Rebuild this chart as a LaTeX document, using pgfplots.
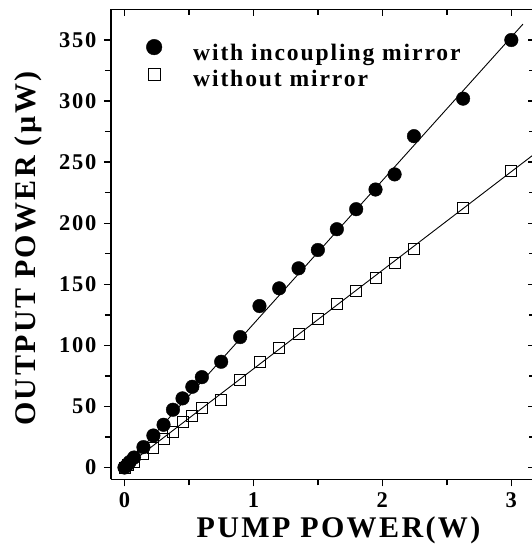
\documentclass[border=0pt]{standalone}
\usepackage{fontspec}
\setmainfont{Liberation Serif}
\newfontfamily\lsfont[LetterSpace=8]{Liberation Serif}
\newfontfamily\tkfont[LetterSpace=8]{Liberation Serif}
\usepackage{pgfplots}
\pgfplotsset{compat=1.18}
\begin{document}
\begin{tikzpicture}
\pgfplotsset{
  common/.style={
    scale only axis, width=424pt, height=470pt,
    xmin=-0.1047, xmax=3.183, ymin=-9.74, ymax=375,
    xtick={0,1,2,3}, minor xtick={0.5,1.5,2.5},
    ytick={0,50,...,350}, minor ytick={25,75,...,325},
    axis line style={line width=1.8pt},
    major tick length=7pt, minor tick length=6pt,
    every tick/.style={black, line width=1.4pt},
    /pgf/number format/assume math mode=true,
  }
}
\begin{axis}[common, name=main,
  axis x line*=bottom, axis y line*=left,
  tick align=outside,
  ticklabel style={font=\tkfont\bfseries\fontsize{22.5}{25}\selectfont},
  yticklabel style={xshift=-4pt},
  xticklabel style={yshift=-3pt},
  xlabel={PUMP POWER(W)},
  ylabel={OUTPUT POWER (µW)},
  label style={font=\lsfont\bfseries\fontsize{30}{34}\selectfont},
  xlabel style={at={(axis description cs:0.5366,-0.1226)}, anchor=base},
  ylabel style={at={(axis description cs:-0.1781,0.491)}, anchor=base, rotate=0},
  legend style={draw=none, fill=none, inner sep=0pt, outer sep=0pt,
    at={(axis description cs:0.083,0.937)}, anchor=north west,
    font=\lsfont\bfseries\fontsize{23.6}{26}\selectfont,
    nodes={inner sep=0pt}, row sep=6pt, column sep=31pt},
  legend cell align=left,
]
\addplot[black, line width=0.9pt, forget plot] coordinates {(0,0) (3.09,363)};
\addplot[black, line width=0.9pt, forget plot] coordinates {(0,0) (3.183,257)};
\addplot[only marks, mark=*, mark size=6.8pt, black, fill=black,
  legend image code/.code={\draw[black, fill=black] (0pt,5.5pt) circle (7.8pt);}]
coordinates {
(0,0) (0.02,2) (0.04,4.5) (0.074,8.2) (0.147,16.7) (0.224,26.2) (0.303,35.0)
(0.376,47.3) (0.45,56.6) (0.526,66.1) (0.6,74.0) (0.75,86.6) (0.897,106.8)
(1.047,132.2) (1.2,146.7) (1.35,163.1) (1.5,178.1) (1.647,195.1) (1.797,211.5)
(1.947,227.6) (2.095,240.0) (2.245,271.3) (2.626,302.0) (3.0,350.0)
};
\addlegendentry{with incoupling mirror}
\addplot[only marks, mark=square, mark size=5.5pt, black, line width=0.9pt,
  legend image code/.code={\draw[black, line width=0.9pt] (-6pt,-0.5pt) rectangle (6pt,11.5pt);}]
coordinates {
(0,0) (0.03,2) (0.074,4.9) (0.147,10.9) (0.224,16.4) (0.303,23.2) (0.376,29.5)
(0.45,36.9) (0.526,42.3) (0.6,48.6) (0.75,55.5) (0.897,72.1) (1.047,86.3)
(1.2,98.1) (1.35,109.0) (1.5,121.3) (1.647,133.6) (1.797,144.5) (1.947,155.5)
(2.095,167.8) (2.245,178.7) (2.626,212.8) (3.0,243.2)
};
\addlegendentry{without mirror}
\end{axis}
\begin{axis}[common,
  axis x line*=top, axis y line*=right,
  tick align=inside,
  xticklabels={}, yticklabels={},
]
\end{axis}
\pgfresetboundingbox
\path ([shift={(-111pt,-65.6pt)}]main.south west) rectangle ([shift={(-3pt,9.5pt)}]main.north east);
\end{tikzpicture}
\end{document}
